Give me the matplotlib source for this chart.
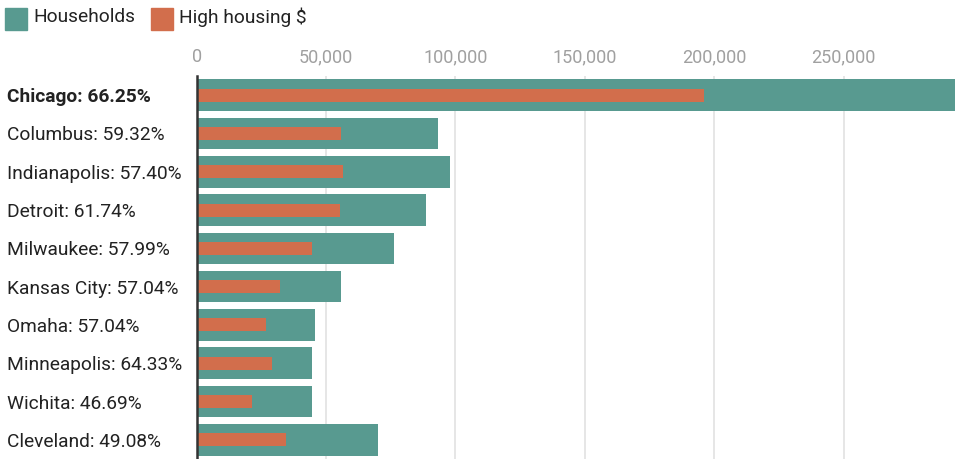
import matplotlib.pyplot as plt
from matplotlib.patches import Rectangle
from matplotlib.transforms import blended_transform_factory

plt.rcParams["font.family"] = ["Roboto", "DejaVu Sans"]

cities = ["Chicago", "Columbus", "Indianapolis", "Detroit", "Milwaukee",
          "Kansas City", "Omaha", "Minneapolis", "Wichita", "Cleveland"]
shares = ["66.25%", "59.32%", "57.40%", "61.74%", "57.99%",
          "57.04%", "57.04%", "64.33%", "46.69%", "49.08%"]
households = [1060000, 93400, 97800, 88500, 76200,
              55800, 45900, 44600, 44600, 70000]
high_housing = [196200, 55900, 56500, 55300, 44600,
                32200, 26700, 29000, 21200, 34700]
ticks = [0, 50000, 100000, 150000, 200000, 250000]

green = "#589a90"
orange = "#d26e4c"

fig = plt.figure(figsize=(9.55, 4.59), dpi=100)
ax = fig.add_axes([0.2059, 0.0, 0.7941, 0.8344])

y = list(range(len(cities)))
ax.barh(y, households, height=0.826, color=green, zorder=2)
ax.barh(y, high_housing, height=0.34, color=orange, zorder=3)

ax.set_xlim(0, 293000)
ax.set_ylim(len(cities) - 0.5, -0.5)
ax.set_xticks(ticks)
ax.set_xticklabels([f"{t:,}" for t in ticks])
ax.xaxis.tick_top()
ax.tick_params(axis="x", length=0, pad=7, labelsize=13, labelcolor="#a0a0a0")
ax.set_yticks([])
ax.grid(axis="x", color="#e2e2e2", linewidth=1.2, zorder=0)
for side in ["top", "right", "bottom"]:
    ax.spines[side].set_visible(False)
ax.spines["left"].set_color("#333333")
ax.spines["left"].set_linewidth(1.8)
ax.spines["left"].set_zorder(4)

# city labels sit at the left edge of the figure
trans = blended_transform_factory(fig.transFigure, ax.transData)
for i, (city, share) in enumerate(zip(cities, shares)):
    ax.text(7 / 955, i, f"{city}: {share}", transform=trans, ha="left",
            va="center_baseline", fontsize=13.8, color="#222222",
            fontweight="bold" if i == 0 else "normal")

# legend
W, H = 955, 459
for x0, color, label in [(5, green, "Households"), (151, orange, "High housing $")]:
    fig.patches.append(Rectangle((x0 / W, 1 - 29.5 / H), 22 / W, 22 / H,
                                 transform=fig.transFigure, color=color))
    fig.text((x0 + 28) / W, 1 - 15.5 / H, label, ha="left", va="center_baseline",
             fontsize=13.8, color="#222222")

fig.savefig("out.png", dpi=100)
